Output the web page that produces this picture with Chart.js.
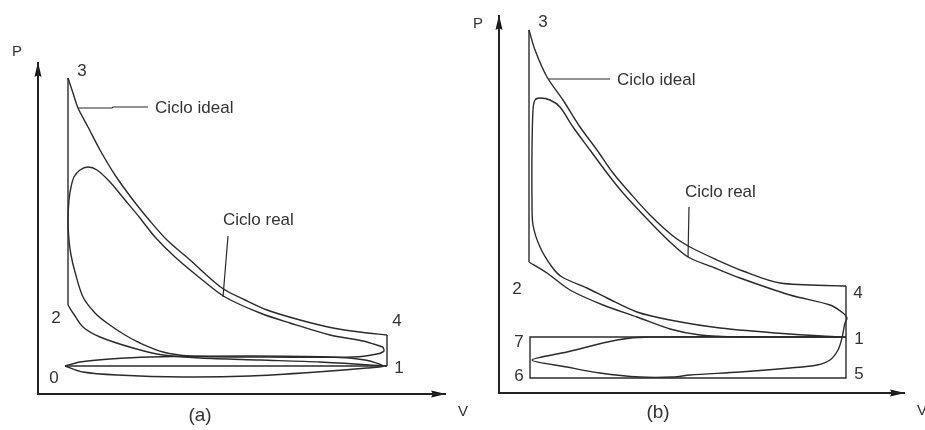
<!DOCTYPE html>
<html>
<head>
<meta charset="utf-8">
<title>Ciclo ideal / Ciclo real</title>
<script src="https://cdn.jsdelivr.net/npm/chart.js@4.4.1/dist/chart.umd.min.js"></script>
<style>
  html, body { margin: 0; padding: 0; background: #fff; }
  #wrap { position: relative; width: 925px; height: 430px; overflow: hidden; }
  canvas { position: absolute; top: 0; }
  #chartA { left: 0; }
  #chartB { left: 468px; }
</style>
</head>
<body>
<div id="wrap">
  <canvas id="chartA" width="470" height="430"></canvas>
  <canvas id="chartB" width="457" height="430"></canvas>
</div>
<script>
// values are [V, P] in the same arbitrary units for both diagrams

// ---- diagram (a) ----
const axisMaxA = [102, 83];
const idealStraightA = [[6.75, 7], [87.25, 7]];                 // 0 -> 1
const idealVertA = [[7.5, 22.25], [7.5, 79]];                   // 2 -> 3
const idealDropA = [[87.25, 14.75], [87.25, 7]];                // 4 -> 1
const idealCompA = [[87.25, 7], [70.5, 8], [55.5, 8.5], [40.5, 9], [31.25, 9.75], [23.75, 11.5],
  [15.5, 14.25], [11.25, 16.75], [8.75, 20.25], [7.5, 22.25]];
const idealExpA = [[7.5, 79], [8.75, 75.25], [10, 71.5], [12.5, 66.75], [15.5, 61], [19.25, 54.75],
  [23.75, 48.5], [28, 43.25], [32.25, 38.5], [38, 33.5], [46, 26.5], [51.75, 23.5], [57.25, 21],
  [65.5, 18.5], [73.75, 16.5], [80.5, 15.5], [87.25, 14.75]];
const realA = [[86.25, 11.75], [86.5, 10.75], [84.75, 10], [78.75, 9.25], [53, 9.25], [38, 9.5],
  [31.25, 10.5], [25.5, 12.75], [21.75, 14.75], [17.25, 17.75], [14.25, 20.25], [11.25, 24.25],
  [9.25, 30.5], [8.25, 34.75], [7.75, 38.5], [7.5, 43.5], [7.75, 48.5], [8.25, 51.75], [9, 54.25],
  [10.5, 56], [12.5, 56.75], [14.75, 56], [18, 53], [21.75, 48.5], [25.5, 44], [29.25, 39.25],
  [34.25, 34.25], [40.5, 29], [46.75, 24.25], [55.5, 20.25], [63, 17.75], [73, 14.75],
  [81.25, 13.25], [86.25, 11.75]];
const pumpLoopA = [[6.75, 7], [10.5, 8], [18, 8.75], [28, 9.25], [53, 9.5], [73, 9.25], [81.75, 8.5],
  [86.25, 7], [82.25, 6.5], [69.75, 5.5], [53, 4.5], [36.25, 4.25], [19.75, 4.75], [11.25, 5.5],
  [6.75, 7]];
const leaderIdealA = [[10, 71.5], [18.5, 71.5], [18.75, 71.75], [27.5, 71.75]];
const leaderRealA = [[47.5, 39.5], [46.25, 24.25]];
const textA = [
  ['P', -5.25, 85.5, 'center', 15], ['V', 106.25, -4.5, 'center', 15], ['(a)', 40.5, -5.5, 'center', 19],
  ['3', 11, 80.75, 'center', 17], ['2', 4.5, 19, 'center', 17], ['0', 4, 4, 'center', 17],
  ['4', 89.75, 18.25, 'center', 17], ['1', 90.25, 6.5, 'center', 17],
  ['Ciclo ideal', 29.25, 71.5, 'left', 17], ['Ciclo real', 46.25, 43.5, 'left', 17]
];

// ---- diagram (b) ----
const axisMaxB = [101.5, 94.5];
const idealVertB = [[7.5, 32.75], [7.5, 90.75]];                // 2 -> 3
const idealBoxB = [[86.75, 26.75], [86.75, 3.75], [7.75, 3.75], [7.75, 14], [86.75, 14]]; // 4-5-6-7-1
const idealCompB = [[86.75, 14], [60.25, 14], [50.25, 14.5], [42.75, 16], [34.5, 19], [26, 22],
  [17.75, 25.75], [12, 30], [7.5, 32.75]];
const idealExpB = [[7.5, 90.75], [9, 85.75], [12, 79], [16, 73.25], [20.25, 66.5], [24.5, 60.75],
  [28.5, 55], [32.75, 50], [37.75, 44.5], [43.5, 39.25], [47.75, 36.5], [54, 33.5], [61, 30.5],
  [70.25, 27.5], [86.75, 26.75]];
const realB = [[85.75, 14], [72.75, 14.75], [55.25, 16.25], [42.75, 18.25], [34.5, 20.25], [27, 23.75],
  [22, 26.25], [15.75, 29], [13.25, 31.5], [10.25, 36.5], [8.5, 42], [8.25, 48.25], [8.25, 60.75],
  [8.5, 70.75], [9, 73.25], [10.25, 73.75], [12.75, 73.25], [15.25, 71.5], [18.5, 66.5],
  [22.75, 60.75], [27, 55], [31, 50], [37.75, 42.75], [42.75, 37.75], [47.25, 34], [54, 31.25],
  [60.25, 28.75], [72.75, 24.5], [82.75, 22], [86, 20], [87, 18.75], [86.5, 17.5], [86, 15],
  [85.75, 13.75], [84.75, 10.75], [82.75, 8.25], [79.5, 7], [72.75, 6.25], [60.25, 5.25],
  [47.75, 4.5], [43.5, 4], [35.25, 4], [25.25, 5], [17, 6.5], [8.25, 8.25], [17, 10.25],
  [29.5, 13.25], [37.75, 14], [85.75, 14]];
const leaderIdealB = [[12.25, 78.5], [27.75, 78.5]];
const leaderRealB = [[47.5, 46.5], [47.25, 34]];
const textB = [
  ['P', -5.25, 92.25, 'center', 15], ['V', 105.75, -4.5, 'center', 15], ['(b)', 39.75, -5, 'center', 19],
  ['3', 11, 92.75, 'center', 17], ['2', 4.5, 26, 'center', 17], ['7', 5, 12.75, 'center', 17],
  ['6', 5, 4.25, 'center', 17], ['4', 89.75, 25, 'center', 17], ['1', 90, 13.5, 'center', 17],
  ['5', 90, 4.75, 'center', 17],
  ['Ciclo ideal', 29.5, 78.25, 'left', 17], ['Ciclo real', 46.5, 50.25, 'left', 17]
];

const INK = '#2b2b2b';
const FONT = '"Liberation Sans", Arial, sans-serif';

// narrow arrow head, tip sits at the image centre so it lands on the axis end
const arrowHead = (() => {
  const c = document.createElement('canvas');
  c.width = 8; c.height = 30;
  const g = c.getContext('2d');
  g.fillStyle = '#111';
  g.beginPath();
  g.moveTo(4, 15); g.lineTo(7.5, 30); g.lineTo(4, 28); g.lineTo(0.5, 30);
  g.closePath();
  g.fill();
  return c;
})();

function line(points, extra) {
  return Object.assign({
    data: points.map(([x, y]) => ({ x, y })),
    showLine: true,
    pointRadius: 0,
    borderColor: INK,
    borderWidth: 1.4,
    tension: 0,
    fill: false,
    clip: false
  }, extra || {});
}

function axes(max) {
  return [
    line([[0, max[1]], [0, 0], [max[0], 0]], { borderWidth: 2, borderColor: '#222' }),
    {
      data: [{ x: 0, y: max[1] }, { x: max[0], y: 0 }],
      showLine: false,
      pointStyle: arrowHead,
      pointRadius: 5,
      rotation: ctx => ctx.dataIndex === 1 ? 90 : 0,
      clip: false
    }
  ];
}

const textPlugin = {
  id: 'cycleText',
  afterDatasetsDraw(chart, args, opts) {
    const { ctx, scales: { x, y } } = chart;
    ctx.save();
    ctx.fillStyle = '#333';
    ctx.textBaseline = 'middle';
    (opts.items || []).forEach(([t, v, p, align, size]) => {
      ctx.font = size + 'px ' + FONT;
      ctx.textAlign = align;
      ctx.fillText(t, x.getPixelForValue(v), y.getPixelForValue(p));
    });
    ctx.restore();
  }
};

function makeChart(id, datasets, max, padding, items) {
  return new Chart(document.getElementById(id), {
    type: 'scatter',
    data: { datasets },
    options: {
      responsive: false,
      devicePixelRatio: 1,
      animation: false,
      events: [],
      layout: { padding },
      scales: {
        x: { type: 'linear', min: 0, max: max[0], display: false },
        y: { type: 'linear', min: 0, max: max[1], display: false }
      },
      plugins: {
        legend: { display: false },
        tooltip: { enabled: false },
        cycleText: { items }
      }
    },
    plugins: [textPlugin]
  });
}

makeChart('chartA', [
  ...axes(axisMaxA),
  line(idealStraightA),
  line(idealVertA),
  line(idealDropA),
  line(idealCompA, { tension: 0.3 }),
  line(idealExpA, { tension: 0.3 }),
  line(pumpLoopA, { tension: 0.3 }),
  line(realA, { tension: 0.3 }),
  line(leaderIdealA, { borderWidth: 1.2 }),
  line(leaderRealA, { borderWidth: 1.2 })
], axisMaxA, { left: 38, right: 24, top: 62, bottom: 36 }, textA);

makeChart('chartB', [
  ...axes(axisMaxB),
  line(idealVertB),
  line(idealBoxB),
  line(idealCompB, { tension: 0.3 }),
  line(idealExpB, { tension: 0.3 }),
  line(realB, { tension: 0.3 }),
  line(leaderIdealB, { borderWidth: 1.2 }),
  line(leaderRealB, { borderWidth: 1.2 })
], axisMaxB, { left: 31, right: 20, top: 15, bottom: 37 }, textB);
</script>
</body>
</html>
